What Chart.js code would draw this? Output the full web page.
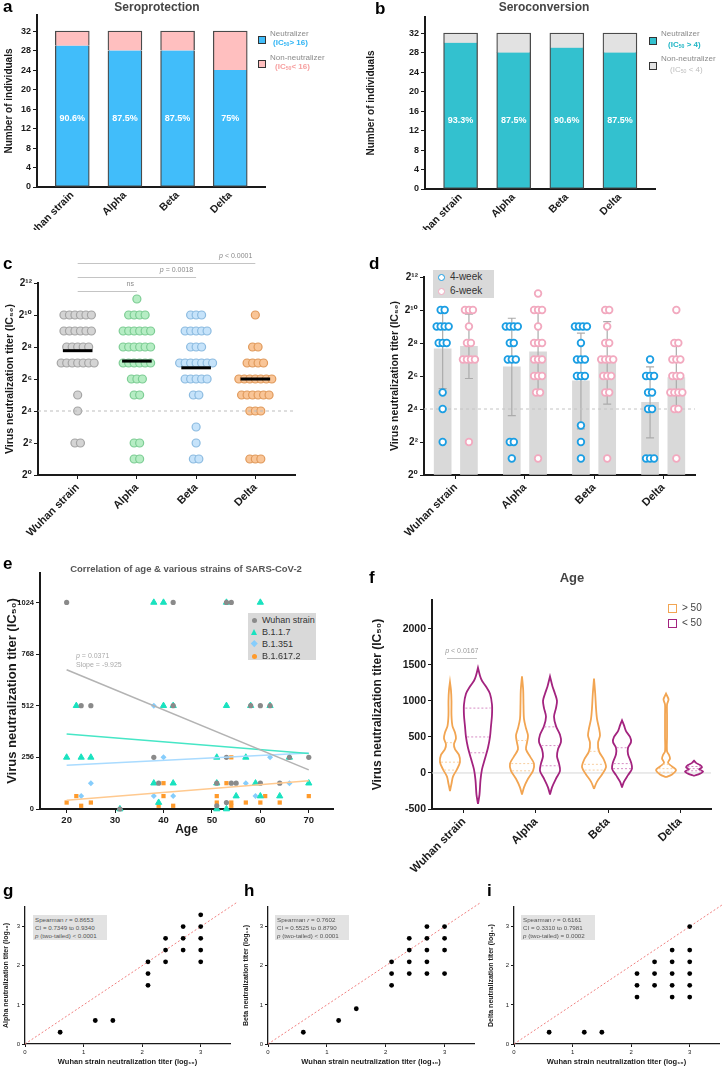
<!DOCTYPE html>
<html>
<head>
<meta charset="utf-8">
<title>Neutralization titers</title>
<script src="https://cdn.jsdelivr.net/npm/chart.js@4.4.1/dist/chart.umd.min.js"></script>
<style>
  body { margin: 0; width: 723px; height: 1068px; position: relative; overflow: hidden; background: #fff;
         font-family: "Liberation Sans", Arial, sans-serif; color: #222; }
  canvas { position: absolute; }
  .t { position: absolute; white-space: nowrap; line-height: 1; }
  .b { position: absolute; box-sizing: border-box; }
  sub { font-size: 0.65em; vertical-align: -0.25em; line-height: 0; }
</style>
</head>
<body>
<script>
// ---------- data ----------
const strains = ['Wuhan strain', 'Alpha', 'Beta', 'Delta'];

// a: seroprotection (IC50 > 16)
const protNeut = [29, 28, 28, 24];
const protNon = [3, 4, 4, 8];
const protPct = ['90.6%', '87.5%', '87.5%', '75%'];

// b: seroconversion (IC50 > 4)
const convNeut = [30, 28, 29, 28];
const convNon = [2, 4, 3, 4];
const convPct = ['93.3%', '87.5%', '90.6%', '87.5%'];

// c: log2 titer levels and number of individuals on each level
const cLevels = [11, 10, 9, 8, 7, 6, 5, 4, 3, 2, 1];
const cWuhan = [0, 6, 6, 5, 7, 0, 1, 1, 0, 2, 0];
const cAlpha = [1, 4, 6, 6, 6, 3, 2, 0, 0, 2, 2];
const cBeta  = [0, 3, 5, 3, 7, 5, 2, 0, 1, 1, 2];
const cDelta = [0, 1, 0, 2, 4, 7, 6, 3, 0, 0, 3];
const cMedian = [7.77, 7.12, 6.7, 6.0];
const cPvals = ['ns', 'p = 0.0018', 'p < 0.0001'];

// d: log2 titers after 4 and 6 weeks
const wk4 = [
  [10, 10, 9, 9, 9, 9, 8, 8, 8, 5, 4, 2],
  [9, 9, 9, 9, 8, 8, 7, 7, 7, 2, 2, 1],
  [9, 9, 9, 9, 8, 7, 7, 7, 6, 6, 6, 3, 2, 1],
  [7, 6, 6, 6, 5, 5, 4, 4, 1, 1, 1]
];
const wk6 = [
  [10, 10, 10, 9, 8, 8, 7, 7, 7, 7, 2],
  [11, 10, 10, 10, 9, 8, 8, 8, 7, 7, 7, 6, 6, 6, 5, 5, 1],
  [10, 10, 9, 8, 8, 7, 7, 7, 7, 6, 6, 6, 5, 5, 1],
  [10, 8, 8, 7, 7, 7, 6, 6, 6, 5, 5, 5, 5, 4, 4, 1]
];
const wk4Mean = [7.64, 6.55, 5.7, 4.4];
const wk4Sd = [2.4, 2.95, 2.9, 2.15];
const wk6Mean = [7.8, 7.47, 6.8, 5.9];
const wk6Sd = [1.95, 2.5, 2.5, 2.0];

// e: age vs titer
const eWuhanAge = [20, 42, 53, 54, 23, 25, 42, 58, 60, 62, 38, 53, 66, 70, 39, 51, 54, 55, 60, 64, 53, 51, 31];
const eWuhanTiter = [1024, 1024, 1024, 1024, 512, 512, 512, 512, 512, 512, 256, 256, 256, 256, 128, 128, 128, 128, 128, 128, 32, 16, 0];
const eAlphaAge = [38, 40, 53, 60, 22, 40, 42, 53, 58, 62, 20, 23, 25, 51, 57, 66, 38, 42, 51, 59, 70, 55, 60, 64, 39, 31, 51, 53];
const eAlphaTiter = [1024, 1024, 1024, 1024, 512, 512, 512, 512, 512, 512, 256, 256, 256, 256, 256, 256, 128, 128, 128, 128, 128, 64, 64, 64, 32, 0, 0, 0];
const eBetaAge = [38, 40, 62, 25, 57, 66, 23, 38, 42, 59];
const eBetaTiter = [512, 256, 256, 128, 128, 128, 64, 64, 64, 64];
const eDeltaAge = [54, 40, 53, 22, 40, 51, 61, 70, 20, 25, 51, 54, 57, 60, 64, 23, 39, 42, 54];
const eDeltaTiter = [256, 128, 128, 64, 64, 64, 64, 64, 32, 32, 32, 32, 32, 32, 32, 16, 16, 16, 16];
const eFitAge = [20, 70];
const eFitWuhan = [690, 194];
const eFitAlpha = [372, 275];
const eFitBeta = [217, 278];
const eFitDelta = [43, 140];
const eSeries = ['Wuhan strain', 'B.1.1.7', 'B.1.351', 'B.1.617.2'];

// f: violin outlines, [titer, relative density]
const vWuhanOver = [[-250, 0], [-150, 1.5], [-50, 3], [50, 7], [150, 10], [250, 9], [330, 5], [400, 4], [480, 6], [560, 5], [650, 2.5], [800, 1.5], [1000, 1.5], [1150, 1], [1260, 0]];
const vWuhanUnder = [[-430, 0], [-300, 1.5], [-100, 2.5], [50, 4], [200, 7], [350, 10], [500, 12], [650, 13], [800, 14], [950, 14], [1100, 12], [1200, 8], [1280, 4], [1350, 2], [1460, 0]];
const vAlphaOver = [[-300, 0], [-200, 2], [-80, 6], [30, 11], [130, 12], [230, 8], [330, 4], [420, 5], [520, 6], [620, 4], [750, 2], [950, 1.5], [1150, 1.2], [1340, 0]];
const vAlphaUnder = [[-300, 0], [-200, 2], [-80, 6], [30, 10], [130, 9], [230, 7], [330, 8], [430, 11], [530, 10], [650, 6], [780, 4], [900, 6], [1000, 7], [1100, 5], [1200, 2.5], [1340, 0]];
const vBetaOver = [[-220, 0], [-120, 3], [-20, 8], [80, 12], [180, 10], [300, 5], [420, 4], [520, 6], [620, 5], [750, 3], [900, 2], [1100, 1.2], [1310, 0]];
const vBetaUnder = [[-200, 0], [-120, 2], [-30, 6], [60, 10], [150, 9], [260, 6], [350, 6], [430, 9], [500, 8], [580, 4], [660, 2], [730, 0]];
const vDeltaOver = [[-60, 0], [-20, 6], [40, 10], [90, 6], [140, 2], [200, 4], [250, 3], [300, 1], [500, 1], [800, 1], [950, 1], [1020, 2.5], [1100, 0]];
const vDeltaUnder = [[-40, 0], [-10, 6], [20, 9], [50, 5], [80, 8], [110, 6], [140, 2], [170, 0]];
const fOverQ = [[40, 150, 420], [30, 130, 450], [40, 120, 300], [10, 60, 120]];
const fUnderQ = [[280, 500, 900], [100, 380, 640], [60, 130, 350], [30, 60, 90]];
const fTicks = [-500, 0, 500, 1000, 1500, 2000];
const fPval = 'p < 0.0167';

// g, h, i: log10 titers, Wuhan strain vs variant
const gPoints = [[0.6, 0.3], [1.2, 0.6], [1.5, 0.6], [2.1, 1.5], [2.1, 1.8], [2.1, 2.1], [2.4, 2.1], [2.4, 2.4], [2.4, 2.7], [2.7, 2.4], [2.7, 2.7], [2.7, 3.0], [3, 2.1], [3, 2.4], [3, 2.7], [3, 3.0], [3, 3.3]];
const hPoints = [[0.6, 0.3], [1.2, 0.6], [1.5, 0.9], [2.1, 1.5], [2.1, 1.8], [2.1, 2.1], [2.4, 1.8], [2.4, 2.1], [2.4, 2.4], [2.4, 2.7], [2.7, 1.8], [2.7, 2.1], [2.7, 2.4], [2.7, 2.7], [2.7, 3.0], [3, 1.8], [3, 2.4], [3, 2.7], [3, 3.0]];
const iPoints = [[0.6, 0.3], [1.2, 0.3], [1.5, 0.3], [2.1, 1.2], [2.1, 1.5], [2.1, 1.8], [2.4, 1.5], [2.4, 1.8], [2.4, 2.1], [2.7, 1.2], [2.7, 1.5], [2.7, 1.8], [2.7, 2.1], [2.7, 2.4], [3, 1.2], [3, 1.5], [3, 1.8], [3, 2.1], [3, 2.4], [3, 3.0]];
const gStats = ['Spearman <i>r</i> = 0.8653', 'CI = 0.7349 to 0.9340', '<i>p</i> (two-tailed) &lt; 0.0001'];
const hStats = ['Spearman <i>r</i> = 0.7602', 'CI = 0.5525 to 0.8790', '<i>p</i> (two-tailed) &lt; 0.0001'];
const iStats = ['Spearman <i>r</i> = 0.6161', 'CI = 0.3310 to 0.7981', '<i>p</i> (two-tailed) = 0.0002'];

// ---------- helpers ----------
const INK = '#1a1a1a';
const FONT = '"Liberation Sans", "DejaVu Sans", Arial, sans-serif';
Chart.defaults.font.family = FONT;
Chart.defaults.color = INK;
Chart.defaults.animation = false;
Chart.defaults.plugins.legend.display = false;
Chart.defaults.plugins.tooltip.enabled = false;

const SUP = {'0': '\u2070', '1': '\u00b9', '2': '\u00b2', '3': '\u00b3', '4': '\u2074', '5': '\u2075', '6': '\u2076', '7': '\u2077', '8': '\u2078', '9': '\u2079'};
const pow2 = v => '2' + String(v).split('').map(c => SUP[c]).join('');
const strainTick = v => (Math.abs(v - Math.round(v)) < 1e-6 && strains[Math.round(v)]) || '';

function frame(box, plot) {
  const c = document.createElement('canvas');
  const w = box[2] - box[0], h = box[3] - box[1];
  c.width = w; c.height = h;
  c.style.left = box[0] + 'px'; c.style.top = box[1] + 'px';
  c.style.width = w + 'px'; c.style.height = h + 'px';
  document.body.appendChild(c);
  return {
    canvas: c,
    padding: {left: 0, top: plot[1] - box[1], right: box[2] - plot[2], bottom: 0},
    yW: plot[0] - box[0],
    xH: box[3] - plot[3]
  };
}

function axis(f, o) {
  const a = {
    type: 'linear', min: o.min, max: o.max, offset: false, stacked: o.stacked || false,
    border: {display: true, color: INK, width: o.bw || 2},
    grid: {display: true, drawOnChartArea: false, drawTicks: true, tickLength: o.tl === undefined ? 4 : o.tl,
           color: INK, tickColor: INK, offset: false},
    ticks: {stepSize: o.step, includeBounds: false, autoSkip: false, padding: o.tp || 2, color: INK,
            font: {size: o.size, weight: o.weight || 'bold'},
            maxRotation: o.rot || 0, minRotation: o.rot || 0,
            callback: o.fmt || (v => v)},
    title: o.title ? {display: true, text: o.title, color: INK, font: {size: o.titleSize, weight: 'bold'},
                      padding: o.horizontal ? {top: 0, bottom: o.titlePad} : {top: o.titlePad, bottom: 0}}
                   : {display: false},
    afterFit: o.horizontal ? (s => { s.height = f.xH; }) : (s => { s.width = f.yW; })
  };
  if (o.ticksAt) a.afterBuildTicks = s => { s.ticks = o.ticksAt.map(v => ({value: v})); };
  return a;
}

function txt(x, y, html, css, center) {
  const d = document.createElement('div');
  d.className = 't';
  d.innerHTML = html;
  d.style.cssText += 'left:' + x + 'px;top:' + y + 'px;' + (css || '');
  d.style.transform = center ? 'translate(-50%,-50%)' : 'translate(0,-50%)';
  document.body.appendChild(d);
  return d;
}
function rect(x, y, w, h, css) {
  const d = document.createElement('div');
  d.className = 'b';
  d.style.cssText += 'left:' + x + 'px;top:' + y + 'px;width:' + w + 'px;height:' + h + 'px;' + css;
  document.body.appendChild(d);
  return d;
}

function drawP(ctx, text, x, y, align, size, color) {
  ctx.fillStyle = color; ctx.textBaseline = 'middle';
  const it = 'italic ' + size + 'px ' + FONT, rg = size + 'px ' + FONT;
  if (text[0] !== 'p') { ctx.font = rg; ctx.textAlign = align; ctx.fillText(text, x, y); return; }
  ctx.font = it; const w1 = ctx.measureText('p').width;
  ctx.font = rg; const rest = text.slice(1); const w2 = ctx.measureText(rest).width;
  const x0 = align === 'right' ? x - w1 - w2 : align === 'center' ? x - (w1 + w2) / 2 : x;
  ctx.textAlign = 'left';
  ctx.font = it; ctx.fillText('p', x0, y);
  ctx.font = rg; ctx.fillText(rest, x0 + w1, y);
}

const pctPlugin = labels => ({
  id: 'pct',
  afterDatasetsDraw(chart) {
    const {ctx, scales: {x, y}} = chart;
    ctx.save();
    ctx.font = 'bold 9px ' + FONT; ctx.fillStyle = '#fff';
    ctx.textAlign = 'center'; ctx.textBaseline = 'middle';
    labels.forEach((t, i) => ctx.fillText(t, x.getPixelForValue(i), y.getPixelForValue(14)));
    ctx.restore();
  }
});

function swarmCounts(center, counts, step) {
  const pts = [];
  cLevels.forEach((lv, k) => {
    const n = counts[k];
    for (let j = 0; j < n; j++) pts.push({x: center + (j - (n - 1) / 2) * step, y: lv});
  });
  return pts;
}
function swarmValues(center, values, step) {
  const tally = {};
  values.forEach(v => { tally[v] = (tally[v] || 0) + 1; });
  const pts = [];
  Object.keys(tally).forEach(k => {
    const n = tally[k];
    for (let j = 0; j < n; j++) pts.push({x: center + (j - (n - 1) / 2) * step, y: +k});
  });
  return pts;
}

// ---------- panels a, b ----------
function stackedPanel(box, plot, neut, non, pct, cNeut, cNon) {
  const f = frame(box, plot);
  new Chart(f.canvas, {
    type: 'bar',
    data: {datasets: [
      {data: neut.map((v, i) => ({x: i, y: v})), backgroundColor: cNeut, borderColor: '#4a4a4a',
       borderWidth: {left: 1.3, right: 1.3, bottom: 1.3, top: 0}, borderSkipped: false, barThickness: 34},
      {data: non.map((v, i) => ({x: i, y: v})), backgroundColor: cNon, borderColor: '#4a4a4a',
       borderWidth: {left: 1.3, right: 1.3, top: 1.3, bottom: 0}, borderSkipped: false, barThickness: 34}
    ]},
    options: {
      responsive: false, layout: {padding: f.padding},
      scales: {
        x: axis(f, {horizontal: true, min: -0.67, max: 3.66, step: 1, size: 10.5, rot: 45, fmt: strainTick, tl: 0, stacked: true}),
        y: axis(f, {min: 0, max: 35.3, step: 4, size: 9, title: 'Number of individuals', titleSize: 10, titlePad: 3, stacked: true})
      }
    },
    plugins: [pctPlugin(pct)]
  });
}
stackedPanel([0, 0, 362, 230], [37, 15, 265, 187], protNeut, protNon, protPct, '#41bdfa', '#ffbfbf');
stackedPanel([362, 0, 723, 230], [425, 17, 655, 189], convNeut, convNon, convPct, '#33c1cf', '#e2e2e2');

// ---------- panel c ----------
(function () {
  const f = frame([0, 245, 362, 548], [38, 283, 295, 475]);
  const step = 5.5 / 59.3;
  const fills = ['#d4d4d4', '#b6edc4', '#c6e3fa', '#f9c597'];
  const edges = ['#a5a5a5', '#7dcd94', '#8cbbe0', '#e09a5c'];
  const groups = [cWuhan, cAlpha, cBeta, cDelta];
  const ds = [];
  cMedian.forEach((m, i) => ds.push({data: [{x: i - 0.25, y: m}, {x: i + 0.25, y: m}], showLine: true,
    borderColor: '#000', borderWidth: 3, pointRadius: 0}));
  ds.push({data: [{x: -0.67, y: 4}, {x: 3.67, y: 4}], showLine: true, borderColor: '#bdbdbd',
    borderWidth: 1, borderDash: [3, 3], pointRadius: 0});
  groups.forEach((g, i) => ds.push({data: swarmCounts(i, g, step), pointRadius: 4,
    backgroundColor: fills[i], borderColor: edges[i], borderWidth: 1.2, clip: false}));
  const brackets = {
    id: 'cBrackets',
    afterDraw(chart) {
      const {ctx, scales: {x, y}} = chart;
      const rise = [11.5, 12.4, 13.25];
      ctx.save(); ctx.strokeStyle = '#c4c4c4'; ctx.lineWidth = 1;
      cPvals.forEach((lab, i) => {
        const py = Math.round(y.getPixelForValue(rise[i])) + 0.5;
        const x0 = x.getPixelForValue(0), x1 = x.getPixelForValue(i + 1);
        ctx.beginPath(); ctx.moveTo(x0, py); ctx.lineTo(x1, py); ctx.stroke();
        drawP(ctx, lab, x1 - 3, py - 7, 'right', 7, '#8a8a8a');
      });
      ctx.restore();
    }
  };
  new Chart(f.canvas, {
    type: 'scatter', data: {datasets: ds},
    options: {
      responsive: false, layout: {padding: f.padding},
      scales: {
        x: axis(f, {horizontal: true, min: -0.67, max: 3.67, step: 1, size: 11, rot: 45, fmt: strainTick}),
        y: axis(f, {min: 0, max: 12, step: 2, size: 10, fmt: pow2, title: 'Virus neutralization titer (IC\u2085\u2080)', titleSize: 10.5, titlePad: 3.5})
      }
    },
    plugins: [brackets]
  });
})();

// ---------- panel d ----------
const PAIR = 0.19;
(function () {
  const f = frame([362, 245, 723, 548], [424, 277, 695, 475]);
  const step = 4 / 69;
  const p4 = [], p6 = [];
  wk4.forEach((vals, i) => p4.push(...swarmValues(i - PAIR, vals, step)));
  wk6.forEach((vals, i) => p6.push(...swarmValues(i + PAIR, vals, step)));
  const bars = wk4Mean.map((m, i) => ({x: i - PAIR, y: m})).concat(wk6Mean.map((m, i) => ({x: i + PAIR, y: m})));
  const err = {
    id: 'dErr',
    afterDatasetDraw(chart, args) {
      if (args.index !== 3) return;
      const {ctx, scales: {x, y}} = chart;
      ctx.save(); ctx.strokeStyle = '#ababab'; ctx.lineWidth = 1.2;
      const draw = (cx, m, s) => {
        const px = x.getPixelForValue(cx), top = y.getPixelForValue(m + s), bot = y.getPixelForValue(m - s);
        ctx.beginPath(); ctx.moveTo(px, top); ctx.lineTo(px, bot);
        ctx.moveTo(px - 4, top); ctx.lineTo(px + 4, top);
        ctx.moveTo(px - 4, bot); ctx.lineTo(px + 4, bot); ctx.stroke();
      };
      wk4Mean.forEach((m, i) => draw(i - PAIR, m, wk4Sd[i]));
      wk6Mean.forEach((m, i) => draw(i + PAIR, m, wk6Sd[i]));
      ctx.restore();
    }
  };
  new Chart(f.canvas, {
    type: 'bar',
    data: {datasets: [
      {type: 'scatter', data: p4, pointRadius: 3.3, backgroundColor: '#fff', borderColor: '#1b9ee3', borderWidth: 1.8, clip: false},
      {type: 'scatter', data: p6, pointRadius: 3.3, backgroundColor: '#fff', borderColor: '#f2a9bf', borderWidth: 1.8, clip: false},
      {type: 'scatter', data: [{x: -0.46, y: 4}, {x: 3.46, y: 4}], showLine: true, borderColor: '#c4c4c4',
       borderWidth: 1, borderDash: [3, 3], pointRadius: 0},
      {data: bars, backgroundColor: '#d9d9d9', barThickness: 17}
    ]},
    options: {
      responsive: false, layout: {padding: f.padding},
      scales: {
        x: axis(f, {horizontal: true, min: -0.46, max: 3.46, step: 1, size: 11, rot: 45, fmt: strainTick}),
        y: axis(f, {min: 0, max: 12, step: 2, size: 10, fmt: pow2, title: 'Virus neutralization titer (IC\u2085\u2080)', titleSize: 10.5, titlePad: 26.5})
      }
    },
    plugins: [err]
  });
})();

// ---------- panel e ----------
(function () {
  const f = frame([0, 550, 362, 840], [40, 573, 333, 809]);
  const pts = (ages, tit) => ages.map((a, i) => ({x: a, y: tit[i]}));
  const fit = (ys, color) => ({data: eFitAge.map((a, i) => ({x: a, y: ys[i]})), showLine: true,
    borderColor: color, borderWidth: 1.6, pointRadius: 0});
  new Chart(f.canvas, {
    type: 'scatter',
    data: {datasets: [
      fit(eFitWuhan, '#b3b3b3'), fit(eFitAlpha, '#46e6c6'), fit(eFitBeta, '#a9dbff'), fit(eFitDelta, '#ffc98f'),
      {data: pts(eWuhanAge, eWuhanTiter), pointStyle: 'circle', pointRadius: 2.6, backgroundColor: '#8a8a8a', borderWidth: 0, clip: false},
      {data: pts(eAlphaAge, eAlphaTiter), pointStyle: 'triangle', pointRadius: 3.6, backgroundColor: '#19e2bf', borderColor: '#19e2bf', borderWidth: 1, clip: false},
      {data: pts(eBetaAge, eBetaTiter), pointStyle: 'rectRot', pointRadius: 3, backgroundColor: '#86cdfc', borderWidth: 0, clip: false},
      {data: pts(eDeltaAge, eDeltaTiter), pointStyle: 'rect', pointRadius: 3, backgroundColor: '#ff9a2b', borderWidth: 0, clip: false}
    ]},
    options: {
      responsive: false, layout: {padding: f.padding},
      scales: {
        x: axis(f, {horizontal: true, min: 14.5, max: 75, step: 10, size: 9.5, title: 'Age', titleSize: 12, titlePad: 3.5}),
        y: axis(f, {min: 0, max: 1170, step: 256, size: 7.5, title: 'Virus neutralization titer (IC\u2085\u2080)', titleSize: 13, titlePad: 4.5})
      }
    }
  });
})();

// ---------- panel f ----------
(function () {
  const f = frame([362, 550, 723, 885], [432, 600, 711, 809]);
  const U = 1 / 72;           // one pixel in category units
  const SHIFT = 14 * U;       // violin offset from the category centre
  const outline = (center, prof) => {
    const right = prof.map(([v, d]) => ({x: center + d * U, y: v}));
    const left = prof.slice().reverse().map(([v, d]) => ({x: center - d * U, y: v}));
    return right.concat(left);
  };
  const widthAt = (prof, v) => {
    for (let k = 1; k < prof.length; k++) {
      if (v <= prof[k][0]) {
        const t = (v - prof[k - 1][0]) / (prof[k][0] - prof[k - 1][0]);
        return prof[k - 1][1] + t * (prof[k][1] - prof[k - 1][1]);
      }
    }
    return 0;
  };
  const over = [vWuhanOver, vAlphaOver, vBetaOver, vDeltaOver];
  const under = [vWuhanUnder, vAlphaUnder, vBetaUnder, vDeltaUnder];
  const ds = [];
  const addViolin = (center, prof, qs, color, pale) => {
    qs.forEach(q => {
      const w = widthAt(prof, q) * U * 0.9;
      ds.push({data: [{x: center - w, y: q}, {x: center + w, y: q}], showLine: true, borderColor: pale,
        borderWidth: 1, borderDash: [2, 2], pointRadius: 0});
    });
    ds.push({data: outline(center, prof), showLine: true, borderColor: color, borderWidth: 1.8,
      tension: 0.3, pointRadius: 0, fill: false});
  };
  over.forEach((p, i) => addViolin(i - SHIFT, p, fOverQ[i], '#f2a552', '#f7cfa0'));
  under.forEach((p, i) => addViolin(i + SHIFT, p, fUnderQ[i], '#a3237f', '#d68cc4'));
  ds.push({data: [{x: -0.444, y: 0}, {x: 3.43, y: 0}], showLine: true, borderColor: '#d6d6d6', borderWidth: 1, pointRadius: 0});
  const bracket = {
    id: 'fBracket',
    afterDraw(chart) {
      const {ctx, scales: {x, y}} = chart;
      ctx.save(); ctx.strokeStyle = '#c4c4c4'; ctx.lineWidth = 1;
      const py = Math.round(y.getPixelForValue(1590)) + 0.5;
      ctx.beginPath(); ctx.moveTo(x.getPixelForValue(-0.236), py); ctx.lineTo(x.getPixelForValue(0.18), py); ctx.stroke();
      drawP(ctx, fPval, x.getPixelForValue(-0.03), py - 7, 'center', 7, '#9a9a9a');
      ctx.restore();
    }
  };
  new Chart(f.canvas, {
    type: 'scatter', data: {datasets: ds},
    options: {
      responsive: false, layout: {padding: f.padding},
      scales: {
        x: axis(f, {horizontal: true, min: -0.444, max: 3.43, step: 1, size: 11.5, rot: 45, fmt: strainTick}),
        y: axis(f, {min: -500, max: 2400, step: 500, size: 10.5, ticksAt: fTicks,
                    title: 'Virus neutralization titer (IC\u2085\u2080)', titleSize: 12, titlePad: 8.8})
      }
    },
    plugins: [bracket]
  });
})();

// ---------- panels g, h, i ----------
function corrPanel(box, plot, points, yTitle, titlePad) {
  const f = frame(box, plot);
  new Chart(f.canvas, {
    type: 'scatter',
    data: {datasets: [
      {data: points.map(([x, y]) => ({x, y})), pointRadius: 2.4, backgroundColor: '#000', borderWidth: 0, clip: false},
      {data: [{x: 0, y: 0}, {x: 3.62, y: 3.62}], showLine: true, borderColor: '#f07f7f', borderWidth: 1,
       borderDash: [2, 2], pointRadius: 0, clip: false}
    ]},
    options: {
      responsive: false, layout: {padding: f.padding},
      scales: {
        x: axis(f, {horizontal: true, min: 0, max: 3.5, step: 1, size: 6, weight: 'normal', bw: 1.3, tl: 3,
                    title: 'Wuhan strain neutralization titer (log\u2081\u2080)', titleSize: 7.5, titlePad: 1.5}),
        y: axis(f, {min: 0, max: 3.5, step: 1, size: 6, weight: 'normal', bw: 1.3, tl: 3,
                    title: yTitle, titleSize: 7, titlePad: titlePad})
      }
    }
  });
}
corrPanel([0, 885, 241, 1068], [25, 907, 230, 1044], gPoints, 'Alpha neutralization titer (log\u2081\u2080)', 1.8);
corrPanel([241, 885, 482, 1068], [268, 907, 474, 1044], hPoints, 'Beta neutralization titer (log\u2081\u2080)', 0.5);
corrPanel([482, 885, 723, 1068], [514, 907, 720, 1044], iPoints, 'Delta neutralization titer (log\u2081\u2080)', 4.8);

// ---------- text, legends ----------
const L = 'font-weight:bold;font-size:17px;color:#000;';
[['a', 3, 6], ['b', 375, 8], ['c', 3, 263], ['d', 369, 263], ['e', 3, 563], ['f', 369, 577],
 ['g', 3, 890], ['h', 244, 890], ['i', 487, 890]].forEach(([s, x, y]) => txt(x, y, s, L));

txt(157, 7, 'Seroprotection', 'font-weight:bold;font-size:12px;color:#454545;', true);
txt(544, 7, 'Seroconversion', 'font-weight:bold;font-size:12px;color:#454545;', true);

// legend a
rect(258, 36, 8, 8, 'background:#41bdfa;border:1.5px solid #333;');
txt(270, 34, 'Neutralizer', 'font-size:8px;color:#8a8a8a;');
txt(273, 43, '(IC<sub>50</sub>&gt; 16)', 'font-size:8px;font-weight:bold;color:#2fb4f4;');
rect(258, 60, 8, 8, 'background:#ffbfbf;border:1.5px solid #333;');
txt(270, 58, 'Non-neutralizer', 'font-size:8px;color:#8a8a8a;');
txt(275, 67, '(IC<sub>50</sub>&lt; 16)', 'font-size:8px;font-weight:bold;color:#f7a0a0;');
// legend b
rect(649, 37, 8, 8, 'background:#33c1cf;border:1.5px solid #333;');
txt(661, 34, 'Neutralizer', 'font-size:8px;color:#8a8a8a;');
txt(668, 45, '(IC<sub>50</sub> &gt; 4)', 'font-size:8px;font-weight:bold;color:#1fb5c5;');
rect(649, 62, 8, 8, 'background:#e2e2e2;border:1.5px solid #333;');
txt(661, 59, 'Non-neutralizer', 'font-size:8px;color:#8a8a8a;');
txt(670, 70, '(IC<sub>50</sub> &lt; 4)', 'font-size:8px;color:#bdbdbd;');

// legend d
rect(433, 270, 61, 28, 'background:#d9d9d9;');
rect(437.5, 273.5, 7, 7, 'border:1.8px solid #1b9ee3;border-radius:50%;background:#fff;');
txt(450, 277, '4-week', 'font-size:10px;color:#333;');
rect(437.5, 287.5, 7, 7, 'border:1.8px solid #f2a9bf;border-radius:50%;background:#fff;');
txt(450, 291, '6-week', 'font-size:10px;color:#333;');

// panel e extras
txt(186, 569, 'Correlation of age &amp; various strains of SARS-CoV-2', 'font-weight:bold;font-size:9.5px;color:#555;', true);
rect(248, 613, 68, 47, 'background:#d9d9d9;');
rect(251.5, 617.5, 5, 5, 'background:#8a8a8a;border-radius:50%;');
rect(251, 629, 0, 0, 'border-left:3.5px solid transparent;border-right:3.5px solid transparent;border-bottom:6px solid #19e2bf;');
rect(252, 641, 4.5, 4.5, 'background:#86cdfc;transform:rotate(45deg);');
rect(251.5, 653.5, 5, 5, 'background:#ff9a2b;border-radius:50%;');
eSeries.forEach((s, i) => txt(262, 620 + i * 12, s, 'font-size:9px;color:#333;'));
txt(76, 655, '<i>p</i> = 0.0371', 'font-size:7px;color:#aaa;');
txt(76, 664, 'Slope = -9.925', 'font-size:7px;color:#aaa;');

// panel f extras
txt(572, 577, 'Age', 'font-weight:bold;font-size:13px;color:#444;', true);
rect(668, 604, 9, 9, 'border:1.6px solid #f2a552;');
txt(682, 608, '&gt; 50', 'font-size:10px;color:#444;');
rect(668, 619, 9, 9, 'border:1.6px solid #a3237f;');
txt(682, 623, '&lt; 50', 'font-size:10px;color:#444;');

// stats boxes g, h, i
[[33, gStats], [275, hStats], [521, iStats]].forEach(([x, lines]) => {
  rect(x, 915, 74, 25, 'background:#e2e2e2;');
  lines.forEach((s, k) => txt(x + 2, 920 + k * 8, s, 'font-size:6.2px;color:#555;'));
});
</script>
</body>
</html>
